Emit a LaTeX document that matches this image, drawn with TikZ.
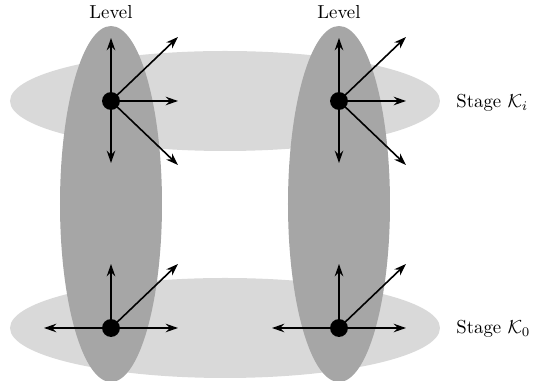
\documentclass[tikz,border=0pt]{standalone}
\usetikzlibrary{arrows.meta}
\definecolor{lightg}{RGB}{217,217,217}
\definecolor{darkg}{RGB}{166,166,166}
\begin{document}
\begin{tikzpicture}[x=0.532pt,y=-0.532pt,
  dot/.style={circle,fill=black,inner sep=0pt,minimum size=9.5pt},
  vec/.style={line width=0.85pt,-{Stealth[length=6.5pt,width=4.5pt]}},
  lbl/.style={inner sep=0pt,anchor=base west}]
\useasboundingbox (0,0) rectangle (533,381);
\clip (0,0) rectangle (533,381);
% stages
\fill[lightg] (225,101) ellipse [x radius=215,y radius=50];
\fill[lightg] (225,328) ellipse [x radius=215,y radius=50];
% levels
\fill[darkg] (111,204) ellipse [x radius=51,y radius=178];
\fill[darkg] (339,204) ellipse [x radius=51,y radius=178];
% labels
\node[anchor=base] (lv1) at (111,19) {Level};
\node[anchor=base] (lv2) at (339,19) {Level};
\node[lbl] (sk1) at (456,108) {Stage $\mathcal{K}_i$};
\node[lbl] (sk0) at (456,334) {Stage $\mathcal{K}_0$};
% dots
\node[dot] (a) at (111,101) {};
\node[dot] (b) at (339,101) {};
\node[dot] (c) at (111,328) {};
\node[dot] (d) at (339,328) {};
% arrow ends
\foreach \n/\x/\y in {au/111/38,ad/111/163,ar/178/101,aur/178/37,adr/178/165,
  bu/339/38,bd/339/163,br/406/101,bur/406/37,bdr/406/165,
  cu/111/264,cr/178/328,cl/44/328,cur/178/264,
  du/339/264,dr/406/328,dl/272/328,dur/406/264}
  \coordinate (\n) at (\x,\y);
\foreach \s/\t in {a/au,a/ad,a/ar,a/aur,a/adr,b/bu,b/bd,b/br,b/bur,b/bdr,
  c/cu,c/cr,c/cl,c/cur,d/du,d/dr,d/dl,d/dur}
  \draw[vec] (\s.center) -- (\t);
\end{tikzpicture}
\end{document}
